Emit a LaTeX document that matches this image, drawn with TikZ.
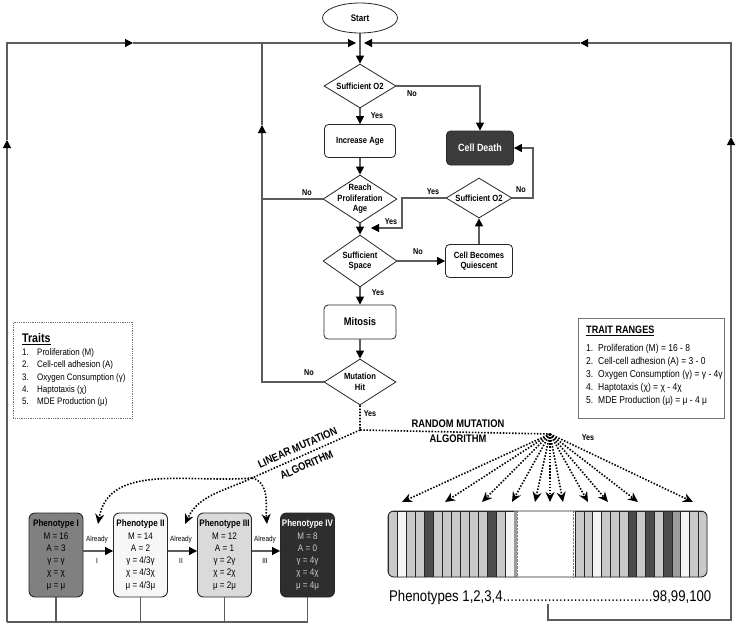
\documentclass[tikz,border=0pt]{standalone}
\usepackage{fontspec}
\setmainfont{Liberation Sans}[FakeStretch=0.85]
\usetikzlibrary{shapes.geometric,arrows.meta,positioning}
\definecolor{wire}{HTML}{5C5C5C}
\definecolor{deathgray}{HTML}{3C3C3C}
\definecolor{phone}{HTML}{808080}
\definecolor{phtwo}{HTML}{F7F7F7}
\definecolor{phthree}{HTML}{DADADA}
\definecolor{phfour}{HTML}{2E2E2E}
\definecolor{barlight}{HTML}{C9C9C9}
\definecolor{barwhite}{HTML}{F5F5F5}
\definecolor{bardark}{HTML}{4B4B4B}
\definecolor{barmid}{HTML}{9D9D9D}
\tikzset{
  wire/.style={draw=wire,line width=1.1pt},
  flow/.style={wire,-{Triangle[length=8pt,width=8pt,black]}},
  mutline/.style={draw=black,line width=1.6pt,dash pattern=on 1.5pt off 1.6pt},
  dotflow/.style={mutline,-{Stealth[length=10pt,width=9pt,black]}},
  stepbox/.style={draw=black!85,line width=0.8pt,rounded corners=4pt,fill=white,
    minimum width=71pt,minimum height=33pt,align=center,
    font=\bfseries\fontsize{9}{10.5}\selectfont},
  decision/.style={diamond,draw=black!85,line width=0.8pt,fill=white,inner sep=0pt},
  dtext/.style={font=\bfseries\fontsize{9}{10.5}\selectfont,align=center},
  yn/.style={font=\bfseries\fontsize{8.5}{10}\selectfont},
  pheno/.style={draw=black!85,line width=0.9pt,rounded corners=6pt,inner xsep=1pt,
    minimum width=54pt,minimum height=84pt,align=center,
    font=\fontsize{9.5}{12.3}\selectfont},
  small/.style={font=\fontsize{7.5}{9}\selectfont},
  algo/.style={font=\bfseries\fontsize{11}{15.5}\selectfont,align=center,inner sep=1pt},
}
\begin{document}
\begin{tikzpicture}[x=1pt,y=1pt]
\useasboundingbox (0,0) rectangle (738,-632);
% flow chart
\node[draw=black!85,line width=0.8pt,ellipse,minimum width=75pt,minimum height=30pt,
  font=\bfseries\fontsize{9.5}{11}\selectfont] (start) at (360,-18) {Start};
\node[decision,minimum width=72pt,minimum height=44pt,
  label={[dtext]center:Sufficient O2}] (oxa) at (360,-86) {};
\node[stepbox] (age) at (360,-141) {Increase Age};
\node[stepbox,fill=deathgray,text=white,minimum width=67pt,minimum height=34pt,
  font=\bfseries\fontsize{10.5}{12}\selectfont] (death) at (480,-148) {Cell Death};
\node[decision,minimum width=74pt,minimum height=48pt,
  label={[dtext]center:Reach\\Proliferation\\Age}] (reach) at (360,-199) {};
\node[decision,minimum width=66pt,minimum height=40pt,
  label={[dtext]center:Sufficient O2}] (oxb) at (479,-198) {};
\node[decision,minimum width=74pt,minimum height=52pt,
  label={[dtext]center:Sufficient\\Space}] (space) at (360,-261) {};
\node[stepbox,minimum width=67pt] (quiet) at (479,-261) {Cell Becomes\\Quiescent};
\node[stepbox,minimum width=72pt,minimum height=34pt,
  font=\bfseries\fontsize{11}{12}\selectfont] (mitosis) at (360,-322) {Mitosis};
\node[decision,minimum width=72pt,minimum height=46pt,
  label={[dtext]center:Mutation\\Hit}] (hit) at (360,-382) {};
% loops
\coordinate (topM) at (360,-43);
\coordinate (topIn) at (262,-43);
\coordinate (inL) at (356,-43);
\coordinate (inR) at (364,-43);
\coordinate (midL) at (133,-43);
\coordinate (midR) at (580,-43);
\coordinate (upL) at (7,-140);
\coordinate (upR) at (731,-137);
\coordinate (upIn) at (262,-125);
\coordinate (botL) at (7,-622);
\coordinate (botR) at (731,-620);
\coordinate (barOut) at (548,-604);
\draw[wire] (start) -- (topM);
\draw[flow] (topM) -- (oxa);
\draw[flow] (oxa) -- (age);
\draw[flow] (age) -- (reach);
\draw[flow] (reach) -- (space);
\draw[flow] (space) -- (mitosis);
\draw[flow] (mitosis) -- (hit);
\draw[flow] (oxa.east) -| (death);
\draw[flow] (space) -- (quiet);
\draw[flow] (quiet) -- (oxb);
\coordinate (yesBend) at (402,-198);
\coordinate (yesTip) at (371,-228);
\draw[flow] (oxb.west) -- (yesBend) |- (yesTip);
\coordinate (noBend) at (533,-198);
\draw[flow] (oxb.east) -- (noBend) |- (death.east);
\draw[wire] (reach.west) -- (reach.west -| upIn);
\draw[flow] (hit.west) -| (upIn);
\draw[wire] (upIn) -- (topIn);
\draw[flow] (botL) -- (upL);
\draw[flow] (upL) |- (midL);
\draw[flow] (midL) -- (inL);
\draw[flow] (barOut) |- (botR) -- (upR);
\draw[flow] (upR) |- (midR);
\draw[flow] (midR) -- (inR);
\node[yn] (noA) at (412,-94) {No};
\node[yn] (yesA) at (377,-116) {Yes};
\node[yn] (noB) at (307,-193) {No};
\node[yn] (yesB) at (433,-192) {Yes};
\node[yn] (noC) at (521,-190) {No};
\node[yn] (yesC) at (391,-222) {Yes};
\node[yn] (noD) at (418,-252) {No};
\node[yn] (yesD) at (378,-293) {Yes};
\node[yn] (noE) at (309,-373) {No};
\node[yn] (yesE) at (370,-414) {Yes};
\node[yn] (yesF) at (588,-438) {Yes};
% mutation algorithms
\coordinate (split) at (360,-430);
\coordinate (fan) at (550,-434);
\coordinate (linEnd) at (252,-478);
\coordinate (tipA) at (98,-524);
\coordinate (tipB) at (185,-524);
\coordinate (tipC) at (267,-524);
\draw[mutline] (hit.south) -- (split) -- (fan);
\draw[mutline] (split) -- (linEnd);
\draw[dotflow] (linEnd) to[out=185,in=80] (tipA);
\draw[dotflow] (linEnd) to[out=205,in=65] (tipB);
\draw[dotflow] (linEnd) to[out=-15,in=95] (tipC);
\node[algo,rotate=24] (linA) at (297.5,-447.5) {LINEAR MUTATION};
\node[algo,rotate=24] (linB) at (306.5,-465) {ALGORITHM};
\node[algo] (random) at (458,-431) {RANDOM MUTATION\\ALGORITHM};
\foreach \x [count=\i] in {402,445,482,512,535,550,563,588,608,638,693}{
  \coordinate (tip\i) at (\x,-502);
  \draw[dotflow] (fan) -- (tip\i);
}
% phenotypes
\node[pheno,fill=phone] (ph1) at (56,-555)
  {\textbf{Phenotype I}\\M = 16\\A = 3\\γ = γ\\χ = χ\\μ = μ};
\node[pheno,fill=phtwo] (ph2) at (140.5,-555)
  {\textbf{Phenotype II}\\M = 14\\A = 2\\γ = 4/3γ\\χ = 4/3χ\\μ = 4/3μ};
\node[pheno,fill=phthree] (ph3) at (224.5,-555)
  {\textbf{Phenotype III}\\M = 12\\A = 1\\γ = 2γ\\χ = 2χ\\μ = 2μ};
\node[pheno,fill=phfour,text=black!20] (ph4) at (307.5,-555)
  {\textcolor{white}{\textbf{Phenotype IV}}\\M = 8\\A = 0\\γ = 4γ\\χ = 4χ\\μ = 4μ};
\draw[flow] ([yshift=4pt]ph1.east) -- ([yshift=4pt]ph2.west);
\draw[flow] ([yshift=4pt]ph2.east) -- ([yshift=4pt]ph3.west);
\draw[flow] ([yshift=4pt]ph3.east) -- ([yshift=4pt]ph4.west);
\node[small] (alA) at (97,-540) {Already};
\node[small] (alB) at (181,-540) {Already};
\node[small] (alC) at (265,-540) {Already};
\node[small] (stA) at (97,-561) {I};
\node[small] (stB) at (181,-561) {II};
\node[small] (stC) at (265,-561) {III};
\draw[wire] (ph1.south) |- (botL);
\draw[wire] (ph4.south) |- (botL);
\draw[wire] (ph2.south) -- (ph2.south |- botL);
\draw[wire] (ph3.south) -- (ph3.south |- botL);
% phenotype strip
\begin{scope}
\clip[rounded corners=6pt] (388,-511) rectangle (707,-577);
\foreach \c [count=\i from 0] in {barlight,barwhite,barlight,barlight,bardark,barlight,
  barlight,barlight,barlight,barlight,barlight,bardark,barlight,barwhite}
  \draw[fill=\c,draw=black!85,line width=0.6pt] ({388+9*\i},-511) rectangle ++(9,-66);
\fill[barmid] (514,-511) rectangle (517,-577);
\foreach \c [count=\i from 0] in {barlight,barlight,barwhite,barlight,barlight,barlight,
  bardark,barlight,bardark,barlight,bardark,barmid,barwhite,barlight,barlight}
  \draw[fill=\c,draw=black!85,line width=0.6pt] ({575+8.8*\i},-511) rectangle ++(8.8,-66);
\end{scope}
\draw[densely dotted,black!50] (517,-511) -- (517,-577);
\draw[densely dotted,black!50] (573,-511) -- (573,-577);
\draw[black!85,line width=0.9pt,rounded corners=6pt] (388,-511) rectangle (707,-577);
\node[anchor=base west,inner sep=0pt,font=\fontsize{15.5}{17}\selectfont] (ptext) at (389,-601)
  {\hbox to 322pt{Phenotypes 1,2,3,4\xleaders\hbox{.}\hfill 98,99,100}};
% trait notes
\node[draw=black!55,densely dotted,line width=0.8pt,anchor=north west,inner sep=0pt,
  minimum width=119pt,minimum height=96pt] (traitbox) at (13,-322) {};
\node[anchor=north west,align=left,inner sep=0pt,font=\fontsize{9.4}{12.3}\selectfont]
  (traits) at (22,-333)
  {{\bfseries\fontsize{12.5}{14}\selectfont\underline{Traits}}\\[1pt]
   \makebox[15pt][l]{1.}Proliferation (M)\\
   \makebox[15pt][l]{2.}Cell-cell adhesion (A)\\
   \makebox[15pt][l]{3.}Oxygen Consumption (γ)\\
   \makebox[15pt][l]{4.}Haptotaxis (χ)\\
   \makebox[15pt][l]{5.}MDE Production (μ)};
\node[draw=black!55,line width=0.8pt,anchor=north west,inner sep=0pt,
  minimum width=146pt,minimum height=100pt] (rangebox) at (578,-318) {};
\node[anchor=north west,align=left,inner sep=0pt,font=\fontsize{10}{13}\selectfont]
  (ranges) at (586,-326)
  {{\bfseries\fontsize{10.7}{12}\selectfont\underline{TRAIT RANGES}}\\[5pt]
   \makebox[12pt][l]{1.}Proliferation (M) = 16 - 8\\
   \makebox[12pt][l]{2.}Cell-cell adhesion (A) = 3 - 0\\
   \makebox[12pt][l]{3.}Oxygen Consumption (γ) = γ - 4γ\\
   \makebox[12pt][l]{4.}Haptotaxis (χ) = χ - 4χ\\
   \makebox[12pt][l]{5.}MDE Production (μ) = μ - 4 μ};
\end{tikzpicture}
\end{document}
